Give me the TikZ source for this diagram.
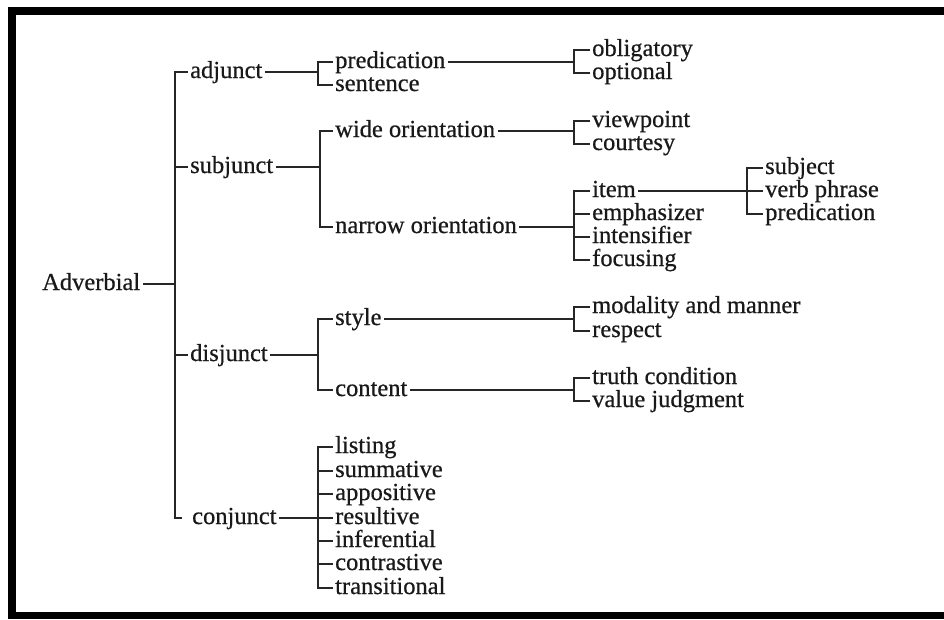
\documentclass[tikz,border=0pt]{standalone}
\usepackage{fontspec}
\setmainfont{Liberation Serif}[FakeBold=0.6]
\begin{document}
\begin{tikzpicture}[x=1pt,y=-1pt,
  lbl/.style={anchor=west, inner xsep=3pt, inner ysep=0pt, text height=17pt, text depth=5pt,
    font=\fontsize{24.5}{26}\selectfont, text=black!90},
  conn/.style={draw=black!85, line width=1.4pt, line cap=rect}]
\useasboundingbox (0,0) rectangle (944,619);
\fill[white] (0,0) rectangle (944,619);
\fill[black] (8,7) rectangle (16,619);
\fill[black] (8,7) rectangle (944,15);
\fill[black] (8,612) rectangle (944,619);

% level 0 and 1
\node[lbl] (adv) at (39,284) {Adverbial};
\coordinate (b0) at (175,0);
\node[lbl] (adj) at (187,72) {adjunct};
\node[lbl] (sub) at (187,167) {subjunct};
\node[lbl] (dis) at (187,355) {disjunct};
\node[lbl] (con) at (189,518) {conjunct};
\draw[conn] (adv.east) -- (adv.east -| b0);
\draw[conn] (adj.west) -- (adj.west -| b0) -- (con.west -| b0) -- ([xshift=-8pt]con.west);
\draw[conn] (sub.west -| b0) -- (sub.west);
\draw[conn] (dis.west -| b0) -- (dis.west);

% level 2
\coordinate (b1) at (318,0);
\coordinate (b2) at (320,0);
\node[lbl] (pred) at (332,62) {predication};
\node[lbl] (sent) at (332,85) {sentence};
\draw[conn] (adj.east) -- (adj.east -| b1);
\draw[conn] (pred.west) -- (pred.west -| b1) -- (sent.west -| b1) -- (sent.west);

\node[lbl] (wide) at (332,131) {wide orientation};
\node[lbl] (narrow) at (332,227) {narrow orientation};
\draw[conn] (sub.east) -- (sub.east -| b2);
\draw[conn] (wide.west) -- (wide.west -| b2) -- (narrow.west -| b2) -- (narrow.west);

\node[lbl] (style) at (332,319) {style};
\node[lbl] (content) at (332,390) {content};
\draw[conn] (dis.east) -- (dis.east -| b1);
\draw[conn] (style.west) -- (style.west -| b1) -- (content.west -| b1) -- (content.west);

\node[lbl] (list) at (332,447) {listing};
\node[lbl] (summ) at (332,471) {summative};
\node[lbl] (appo) at (332,494) {appositive};
\node[lbl] (resu) at (332,518) {resultive};
\node[lbl] (infe) at (332,541) {inferential};
\node[lbl] (cont) at (332,564) {contrastive};
\node[lbl] (tran) at (332,588) {transitional};
\draw[conn] (con.east) -- (con.east -| b1);
\draw[conn] (list.west) -- (list.west -| b1) -- (tran.west -| b1) -- (tran.west);
\foreach \n in {summ,appo,resu,infe,cont}
  \draw[conn] (\n.west -| b1) -- (\n.west);

% level 3
\coordinate (b3) at (574,0);
\node[lbl] (obl) at (589,50) {obligatory};
\node[lbl] (opt) at (589,73) {optional};
\draw[conn] (pred.east) -- (pred.east -| b3);
\draw[conn] (obl.west) -- (obl.west -| b3) -- (opt.west -| b3) -- (opt.west);

\node[lbl] (view) at (589,121) {viewpoint};
\node[lbl] (court) at (589,144) {courtesy};
\draw[conn] (wide.east) -- (wide.east -| b3);
\draw[conn] (view.west) -- (view.west -| b3) -- (court.west -| b3) -- (court.west);

\node[lbl] (item) at (589,191) {item};
\node[lbl] (emph) at (589,214) {emphasizer};
\node[lbl] (inten) at (589,237) {intensifier};
\node[lbl] (focus) at (589,260) {focusing};
\draw[conn] (narrow.east) -- (narrow.east -| b3);
\draw[conn] (item.west) -- (item.west -| b3) -- (focus.west -| b3) -- (focus.west);
\draw[conn] (emph.west -| b3) -- (emph.west);
\draw[conn] (inten.west -| b3) -- (inten.west);

\node[lbl] (moda) at (589,307) {modality and manner};
\node[lbl] (resp) at (589,331) {respect};
\draw[conn] (style.east) -- (style.east -| b3);
\draw[conn] (moda.west) -- (moda.west -| b3) -- (resp.west -| b3) -- (resp.west);

\node[lbl] (truth) at (589,378) {truth condition};
\node[lbl] (value) at (589,401) {value judgment};
\draw[conn] (content.east) -- (content.east -| b3);
\draw[conn] (truth.west) -- (truth.west -| b3) -- (value.west -| b3) -- (value.west);

% level 4
\coordinate (b4) at (747,0);
\node[lbl] (subj) at (762,168) {subject};
\node[lbl] (vp) at (762,191) {verb phrase};
\node[lbl] (pred2) at (762,214) {predication};
\draw[conn] (item.east) -- (item.east -| b4);
\draw[conn] (subj.west) -- (subj.west -| b4) -- (pred2.west -| b4) -- (pred2.west);
\draw[conn] (vp.west -| b4) -- (vp.west);
\end{tikzpicture}
\end{document}
